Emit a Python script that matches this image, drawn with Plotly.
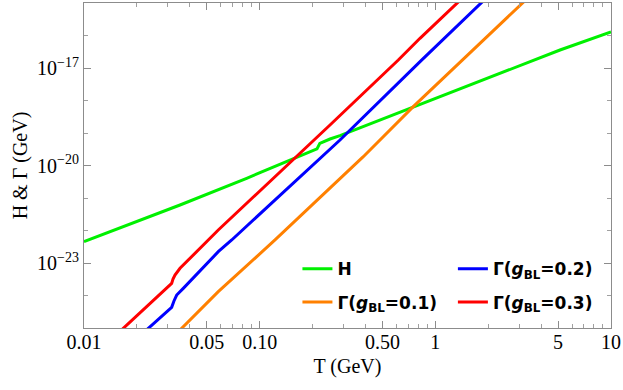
import plotly.graph_objects as go

# ---- data (T in GeV, rates in GeV) ----
T_H = [0.01, 0.0352, 0.0843, 0.202, 0.212, 0.220, 0.2514, 0.2866, 1.575, 2.333, 5.126, 10.0]
H = [4.52e-23, 6.10e-22, 4.04e-21, 3.00e-20, 3.24e-20, 4.82e-20, 6.53e-20, 8.26e-20, 3.00e-18, 6.87e-18, 3.58e-17, 1.29e-16]

T_G1 = [0.0355, 0.05813, 0.1223, 0.2866, 0.389, 0.749, 1.087, 3.141, 3.311]
G1 = [9.1e-26, 1.31e-24, 5.11e-23, 3.80e-21, 1.866e-20, 6.46e-19, 4.28e-18, 1.0e-15, 1.32e-15]

T_G2 = [0.0228, 0.03155, 0.03252, 0.03370, 0.03674, 0.05813, 0.06933, 0.2514, 0.2866, 0.8270, 1.820, 1.905]
G2 = [8.9e-26, 4.34e-25, 6.78e-25, 1.035e-24, 1.66e-24, 2.23e-23, 5.11e-23, 3.00e-20, 6.10e-20, 1.66e-17, 1.0e-15, 1.26e-15]

T_G3 = [0.016, 0.03155, 0.03211, 0.03296, 0.0352, 0.05100, 0.05813, 0.2514, 0.6154, 0.8179, 1.334, 1.413]
G3 = [7.8e-26, 2.37e-24, 3.22e-24, 4.27e-24, 6.87e-24, 5.11e-23, 1.035e-22, 1.762e-19, 1.762e-17, 8.20e-17, 1.0e-15, 1.35e-15]

x_tickvals = [0.01, 0.05, 0.1, 0.5, 1, 5, 10]
x_ticktext = ["0.01", "0.05", "0.10", "0.50", "1", "5", "10"]
x_minor = [0.02, 0.03, 0.04, 0.06, 0.07, 0.08, 0.09, 0.2, 0.3, 0.4, 0.6, 0.7, 0.8, 0.9,
           2, 3, 4, 6, 7, 8, 9]
y_tickvals = [1e-23, 1e-20, 1e-17]
y_ticktext = ["10<sup>\u221223</sup>", "10<sup>\u221220</sup>", "10<sup>\u221217</sup>"]
y_minor = [1e-25, 1e-24, 1e-22, 1e-21, 1e-19, 1e-18, 1e-16, 1e-15]

names = {
    "H": "<b>H</b>",
    "G1": "<b>\u0393(<i>g</i><sub>BL</sub>=0.1)</b>",
    "G2": "<b>\u0393(<i>g</i><sub>BL</sub>=0.2)</b>",
    "G3": "<b>\u0393(<i>g</i><sub>BL</sub>=0.3)</b>",
}

fig = go.Figure()
lw = 3
fig.add_trace(go.Scatter(x=T_H, y=H, mode="lines", name=names["H"],
                         line=dict(color="#00f000", width=lw), legend="legend", legendgroup="a"))
fig.add_trace(go.Scatter(x=T_G1, y=G1, mode="lines", name=names["G1"],
                         line=dict(color="#ff8000", width=lw), legend="legend", legendgroup="b"))
fig.add_trace(go.Scatter(x=T_G2, y=G2, mode="lines", name=names["G2"],
                         line=dict(color="#0000ff", width=lw), legend="legend2", legendgroup="c"))
fig.add_trace(go.Scatter(x=T_G3, y=G3, mode="lines", name=names["G3"],
                         line=dict(color="#ff0000", width=lw), legend="legend2", legendgroup="d"))

serif = "Liberation Serif"
axis_common = dict(
    type="log", showgrid=False, zeroline=False, showline=True, linecolor="#8c8c8c", linewidth=1,
    mirror="allticks", ticks="inside", tickcolor="#8c8c8c", ticklen=7, tickwidth=1,
    tickfont=dict(family=serif, size=20, color="black"),
)

legend_font = dict(family="DejaVu Sans", size=17, color="black")

fig.update_layout(
    width=623, height=390,
    margin=dict(l=84, r=12, t=3, b=62),
    paper_bgcolor="white", plot_bgcolor="white",
    xaxis=dict(axis_common, range=[-2, 1], tickmode="array", tickvals=x_tickvals, ticktext=x_ticktext,
               ticklabelstandoff=-4,
               minor=dict(tickmode="array", tickvals=x_minor, ticks="inside", ticklen=4,
                          tickcolor="#a0a0a0", showgrid=False),
               title=dict(text="T (GeV)", font=dict(family=serif, size=20, color="black"),
                          standoff=6)),
    yaxis=dict(axis_common, range=[-25, -15], tickmode="array", tickvals=y_tickvals, ticktext=y_ticktext,
               minor=dict(tickmode="array", tickvals=y_minor, ticks="inside", ticklen=4,
                          tickcolor="#a0a0a0", showgrid=False),
               title=dict(text="H &amp; \u0393 (GeV)", font=dict(family=serif, size=20, color="black"),
                          standoff=4)),
    legend=dict(x=0.405, y=0.236, xanchor="left", yanchor="top", bgcolor="rgba(0,0,0,0)",
                font=legend_font, tracegroupgap=8, itemwidth=30),
    legend2=dict(x=0.700, y=0.236, xanchor="left", yanchor="top", bgcolor="rgba(0,0,0,0)",
                 font=legend_font, tracegroupgap=8, itemwidth=30),
    showlegend=True,
)

fig.write_html("out.html", config={"displayModeBar": False},
               post_script="document.body.style.margin='0';")
